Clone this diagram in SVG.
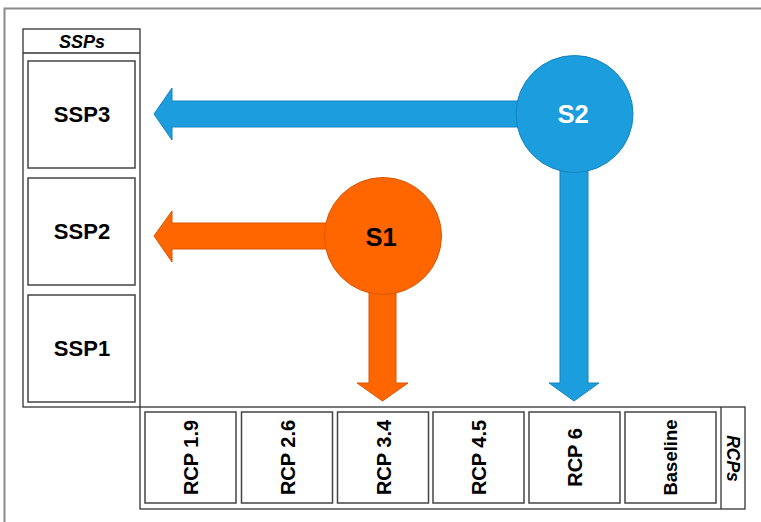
<svg xmlns="http://www.w3.org/2000/svg" width="761" height="522" viewBox="0 0 761 522">
<style>
  .frame{fill:none;stroke:#8a8a8a;stroke-width:2}
  .cont{fill:#fff;stroke:#333;stroke-width:1.3}
  .box{fill:#fff;stroke:#444;stroke-width:1.5}
  .lbl{font-family:"Liberation Sans",Arial,sans-serif;font-weight:bold;fill:#000}
  .hdr{font-family:"Liberation Sans",Arial,sans-serif;font-weight:bold;font-style:italic;fill:#000}
  .orange{fill:#FF6600;stroke:#D95500;stroke-width:1}
  .blue{fill:#1B9DDE;stroke:#1783BD;stroke-width:1}
</style>
<rect x="0" y="0" width="761" height="522" fill="#fff"/>
<rect class="frame" x="4.5" y="8.5" width="820" height="600"/>

<g id="ssps">
  <rect class="cont" x="23" y="29" width="117" height="378"/>
  <line x1="23" y1="53" x2="140" y2="53" stroke="#333" stroke-width="1.3"/>
  <text class="hdr" x="82" y="48" font-size="18" text-anchor="middle">SSPs</text>
</g>
<g id="ssp3">
  <rect class="box" x="28" y="61" width="107" height="107"/>
  <text class="lbl" x="82" y="122" font-size="22" text-anchor="middle">SSP3</text>
</g>
<g id="ssp2">
  <rect class="box" x="28" y="178" width="107" height="107"/>
  <text class="lbl" x="82" y="239" font-size="22" text-anchor="middle">SSP2</text>
</g>
<g id="ssp1">
  <rect class="box" x="28" y="295" width="107" height="107"/>
  <text class="lbl" x="82" y="356" font-size="22" text-anchor="middle">SSP1</text>
</g>

<g id="rcps">
  <rect class="cont" x="140" y="407" width="605" height="102"/>
  <line x1="721" y1="407" x2="721" y2="509" stroke="#333" stroke-width="1.3"/>
  <text class="hdr" transform="translate(727,458.5) rotate(90)" font-size="17.5" text-anchor="middle">RCPs</text>
</g>
<g id="rcp19">
  <rect class="box" x="145" y="412" width="91" height="91"/>
  <text class="lbl" transform="translate(198,457.5) rotate(-90)" font-size="20" text-anchor="middle">RCP 1.9</text>
</g>
<g id="rcp26">
  <rect class="box" x="241.5" y="412" width="91" height="91"/>
  <text class="lbl" transform="translate(294.5,457.5) rotate(-90)" font-size="20" text-anchor="middle">RCP 2.6</text>
</g>
<g id="rcp34">
  <rect class="box" x="337.5" y="412" width="91" height="91"/>
  <text class="lbl" transform="translate(390.5,457.5) rotate(-90)" font-size="20" text-anchor="middle">RCP 3.4</text>
</g>
<g id="rcp45">
  <rect class="box" x="433" y="412" width="91" height="91"/>
  <text class="lbl" transform="translate(486,457.5) rotate(-90)" font-size="20" text-anchor="middle">RCP 4.5</text>
</g>
<g id="rcp6">
  <rect class="box" x="529" y="412" width="91" height="91"/>
  <text class="lbl" transform="translate(582,457.5) rotate(-90)" font-size="20" text-anchor="middle">RCP 6</text>
</g>
<g id="baseline">
  <rect class="box" x="625" y="412" width="91" height="91"/>
  <text class="lbl" transform="translate(677,457.5) rotate(-90)" font-size="18.5" text-anchor="middle">Baseline</text>
</g>

<g id="connectors">
  <path class="blue" d="M154,114 L172,88 L172,101 L540,101 L540,127 L172,127 L172,140 Z"/>
  <path class="blue" d="M560,150 L588,150 L588,383 L599,383 L574,401 L549,383 L560,383 Z"/>
  <path class="orange" d="M154,236 L172,211 L172,223 L360,223 L360,249 L172,249 L172,262 Z"/>
  <path class="orange" d="M369,270 L396,270 L396,383 L408,383 L382.5,401 L357,383 L369,383 Z"/>
</g>

<g id="s2">
  <circle class="blue" cx="574.5" cy="114" r="58.5"/>
  <text class="lbl" x="573" y="123" font-size="25.5" text-anchor="middle" fill="#fff" style="fill:#fff">S2</text>
</g>
<g id="s1">
  <circle class="orange" cx="383" cy="236" r="58.5"/>
  <text class="lbl" x="381" y="245.5" font-size="25.5" text-anchor="middle">S1</text>
</g>
</svg>
